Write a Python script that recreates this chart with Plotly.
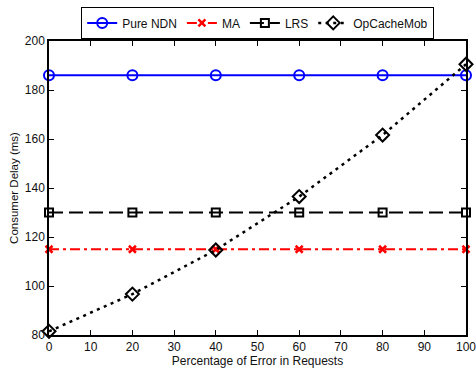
import plotly.graph_objects as go

x_vals = [0, 20, 40, 60, 80, 100]
pure_ndn = [186, 186, 186, 186, 186, 186]
ma = [115, 115, 115, 115, 115, 115]
lrs = [130, 130, 130, 130, 130, 130]
opcachemob = [81.5, 96.7, 114.7, 136.5, 161.6, 190.5]

fig = go.Figure()
fig.add_trace(go.Scatter(x=x_vals, y=pure_ndn, name="Pure NDN", mode="lines+markers",
                         line=dict(color="#0000ff", width=2, dash="solid"),
                         marker=dict(symbol="circle-open", size=10, color="#0000ff", line=dict(width=2))))
fig.add_trace(go.Scatter(x=x_vals, y=ma, name="MA", mode="lines+markers",
                         line=dict(color="#ff0000", width=2, dash="10px,4px,3px,4px"),
                         marker=dict(symbol="x-thin-open", size=7, color="#ff0000", line=dict(width=2.5))))
fig.add_trace(go.Scatter(x=x_vals, y=lrs, name="LRS", mode="lines+markers",
                         line=dict(color="#000000", width=2, dash="14px,6px"),
                         marker=dict(symbol="square-open", size=8, color="#000000", line=dict(width=2))))
fig.add_trace(go.Scatter(x=x_vals, y=opcachemob, name="OpCacheMob", mode="lines+markers",
                         line=dict(color="#000000", width=2.5, dash="3px,4.5px"),
                         marker=dict(symbol="diamond-open", size=10, color="#000000", line=dict(width=2))))

axis_common = dict(showgrid=False, zeroline=False, showline=True, linecolor="black", linewidth=1.5,
                   mirror="ticks", ticks="inside", ticklen=5, tickcolor="black", automargin=False,
                   ticklabeloverflow="allow",
                   tickfont=dict(family="Liberation Sans, Arial, sans-serif", size=12, color="#111"))

fig.update_layout(
    width=476, height=368,
    margin=dict(l=49, r=10, t=41, b=33, autoexpand=False),
    paper_bgcolor="white", plot_bgcolor="white",
    font=dict(family="Liberation Sans, Arial, sans-serif", size=11, color="#111"),
    showlegend=True,
    legend=dict(orientation="h", x=0.5, xanchor="center", y=1.115, yanchor="top",
                bordercolor="black", borderwidth=1.2, bgcolor="white",
                font=dict(size=12), itemwidth=30, tracegroupgap=0),
    xaxis=dict(range=[0, 100], dtick=10, tick0=0,
               title=dict(text="Percentage of Error in Requests", standoff=0, font=dict(size=12)),
               **axis_common),
    yaxis=dict(range=[80, 200], dtick=20, tick0=80,
               title=dict(text="Consumer Delay (ms)", standoff=4, font=dict(size=11.5)),
               **axis_common),
)
for tr in fig.data:
    tr.cliponaxis = False

fig.write_html("out.html", config={"displayModeBar": False},
               post_script="document.body.style.margin='0';document.body.style.overflow='hidden';")
